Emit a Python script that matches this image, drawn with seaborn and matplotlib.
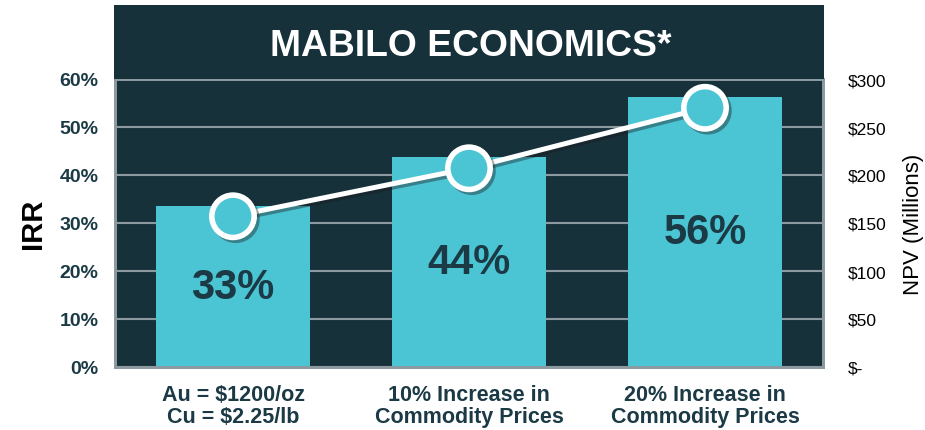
import matplotlib
matplotlib.use("Agg")
import matplotlib.pyplot as plt
from matplotlib import font_manager
from matplotlib.patches import Rectangle
import matplotlib.patheffects as pe
import seaborn as sns
import pandas as pd

# ---- data ----
categories = ["Au = $1200/oz\nCu = $2.25/lb",
              "10% Increase in\nCommodity Prices",
              "20% Increase in\nCommodity Prices"]
irr_pct = [33.5, 43.7, 56.2]
irr_labels = ["33%", "44%", "56%"]
npv_musd = [157, 207, 270]
irr_ticks = [0, 10, 20, 30, 40, 50, 60]
irr_ticklabels = ["0%", "10%", "20%", "30%", "40%", "50%", "60%"]
npv_ticks = [0, 50, 100, 150, 200, 250, 300]
npv_ticklabels = ["$-", "$50", "$100", "$150", "$200", "$250", "$300"]
title = "MABILO ECONOMICS*"

# ---- style ----
PANEL = "#17313b"
BAR = "#4bc5d4"
DARK = "#1b3a45"
GRID = "#8c9a9f"

sns.set_theme(style="white")
plt.rcParams["font.family"] = ["Liberation Sans", "DejaVu Sans"]

names = {f.name for f in font_manager.fontManager.ttflist}
if "Liberation Sans Narrow" in names:
    NARROW = ["Liberation Sans Narrow", "Liberation Sans", "DejaVu Sans"]
    title_size, cat_size = 32, 18
else:
    NARROW = ["Liberation Sans", "DejaVu Sans"]
    title_size, cat_size = 26.8, 15.5

W, H = 925, 431
fig = plt.figure(figsize=(W / 100, H / 100), dpi=100)
fig.patch.set_facecolor("white")

# title banner
fig.patches.append(Rectangle((114 / W, (H - 80) / H), 710 / W, 74 / H,
                             transform=fig.transFigure, facecolor=PANEL,
                             edgecolor="none", zorder=0))
fig.text(471 / W, (H - 46) / H, title, color="white", fontsize=title_size,
         fontweight="bold", family=NARROW, ha="center", va="center")

ax = fig.add_axes([115 / W, (H - 368) / H, 708 / W, 288 / H])
ax.set_facecolor(PANEL)

df = pd.DataFrame({"cat": categories, "irr": irr_pct, "npv": npv_musd})
sns.barplot(data=df, x="cat", y="irr", color=BAR, saturation=1, width=0.65,
            linewidth=0, edgecolor="none", ax=ax, zorder=3)
ax.set_ylim(0, 60)
ax.set_yticks(irr_ticks)
ax.set_yticklabels(irr_ticklabels, fontsize=14, fontweight="bold", color=DARK)
ax.yaxis.grid(True, color=GRID, linewidth=1.5, zorder=1)
ax.set_axisbelow(True)
ax.tick_params(axis="y", length=0, pad=12)
ax.tick_params(axis="x", length=0, pad=12)
ax.set_xticks(range(len(categories)))
ax.set_xticklabels(categories, fontsize=cat_size, fontweight="bold",
                   color=DARK, family=NARROW, linespacing=1.1)
ax.set_xlabel("")
ax.set_ylabel("IRR", fontsize=21, fontweight="bold", color="black", labelpad=9)
for s in ax.spines.values():
    s.set_color(GRID)
    s.set_linewidth(2)

for p, lab in zip(ax.patches, irr_labels):
    ax.text(p.get_x() + p.get_width() / 2, p.get_height() / 2, lab,
            ha="center", va="center", fontsize=30, fontweight="bold",
            color=DARK, zorder=5)

ax2 = ax.twinx()
ax2.set_facecolor("none")
sns.pointplot(data=df, x="cat", y="npv", color="white", markers="o",
              ax=ax2, linewidth=3.6, markersize=15)
for ln in ax2.lines:
    ln.set_markerfacecolor(BAR)
    ln.set_markeredgecolor("white")
    ln.set_markeredgewidth(4)
    ln.set_markersize(30.5)
    ln.set_path_effects([pe.SimpleLineShadow(offset=(2, -2), alpha=0.4),
                         pe.Normal()])
ax2.set_ylim(0, 300)
ax2.set_yticks(npv_ticks)
ax2.set_yticklabels(npv_ticklabels, fontsize=12.5, color="black")
ax2.tick_params(axis="y", length=0, pad=18)
ax2.set_ylabel("NPV (Millions)", fontsize=16, color="black", labelpad=12)
ax2.set_xlabel("")
ax2.set_xlim(ax.get_xlim())
for s in ax2.spines.values():
    s.set_color(GRID)
    s.set_linewidth(2)

fig.savefig("out.png", dpi=100, facecolor="white")
